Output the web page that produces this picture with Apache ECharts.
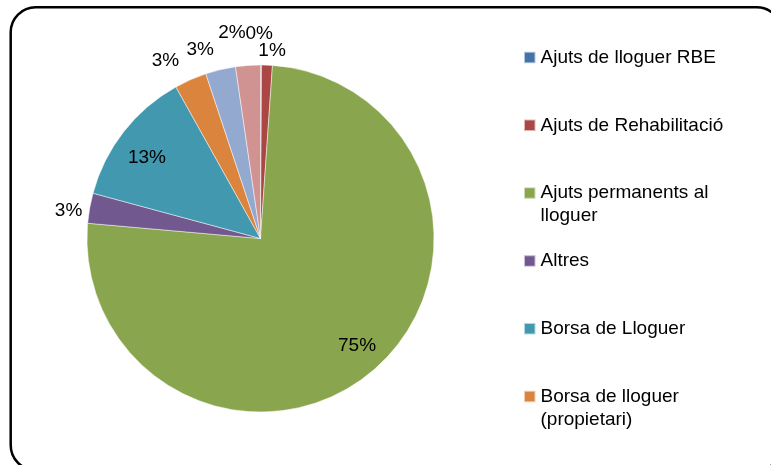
<!DOCTYPE html>
<html>
<head>
<meta charset="utf-8">
<script src="https://cdn.jsdelivr.net/npm/echarts@6/dist/echarts.min.js"></script>
<style>
html,body{margin:0;padding:0;background:#fff;}
#chart{width:771px;height:465px;}
</style>
</head>
<body>
<div id="chart"></div>
<script>
// ---- data ----
const categories = [
  'Ajuts de lloguer RBE',
  'Ajuts de Rehabilitació',
  'Ajuts permanents al lloguer',
  'Altres',
  'Borsa de Lloguer',
  'Borsa de lloguer (propietari)',
  'Categoria 7',
  'Categoria 8'
];
const shares = [0.1, 1.0, 75.3, 2.8, 12.7, 3.0, 2.8, 2.3];
const legendNames = categories.slice(0, 6);
const legendText = [
  'Ajuts de lloguer RBE',
  'Ajuts de Rehabilitació',
  'Ajuts permanents al\nlloguer',
  'Altres',
  'Borsa de Lloguer',
  'Borsa de lloguer\n(propietari)'
];

// ---- styling ----
const colors = ['#4572A7', '#AA4643', '#89A54E', '#71588F', '#4198AF', '#DB843D', '#93A9CF', '#D19392'];
const FONT = "'Liberation Sans', Arial, sans-serif";
const CX = 260.5, CY = 238.5, R = 173.5;
const innerLabelSet = { 'Ajuts permanents al lloguer': [3, -2], 'Borsa de Lloguer': [0, 8] };
const outerLabelSet = {
  'Ajuts de lloguer RBE': [-2, -4],
  'Ajuts de Rehabilitació': [4, 13],
  'Altres': [6, 7],
  'Borsa de lloguer (propietari)': [-14, 6],
  'Categoria 7': [-14, 7],
  'Categoria 8': [-14, -5]
};
const pct = p => Math.round(p.percent) + '%';

function labelData(set) {
  return categories.map((name, i) => {
    const on = Object.prototype.hasOwnProperty.call(set, name);
    return {
      name: name,
      value: shares[i],
      itemStyle: { color: 'rgba(0,0,0,0)', borderWidth: 0 },
      label: on ? { show: true, offset: set[name] } : { show: false }
    };
  });
}

const labelStyle = {
  position: 'inside',
  formatter: pct,
  color: '#000',
  fontSize: 19,
  fontFamily: FONT
};

const legendCenters0 = 57.5, legendStep = 67.8;
const legends = legendNames.map((name, i) => {
  const twoLines = legendText[i].indexOf('\n') >= 0;
  const c = legendCenters0 + i * legendStep;
  return {
    data: [name],
    orient: 'vertical',
    left: 523,
    top: twoLines ? c - 34.5 : c - 11.5,
    padding: 0,
    itemWidth: 11.5,
    itemHeight: 11.5,
    icon: 'rect',
    selectedMode: false,
    // a leading empty line keeps the first text line level with the marker
    formatter: () => (twoLines ? '\n' : '') + legendText[i],
    textStyle: {
      color: '#000',
      fontSize: 19,
      fontFamily: FONT,
      lineHeight: 23
    }
  };
});

const chart = echarts.init(document.getElementById('chart'), null, { renderer: 'canvas' });
chart.setOption({
  animation: false,
  backgroundColor: '#fff',
  graphic: [{
    type: 'rect',
    silent: true,
    shape: { x: 10.7, y: 7.2, width: 771, height: 463, r: 25 },
    style: { fill: 'none', stroke: '#000', lineWidth: 2.5 },
    z: 100
  }],
  legend: legends,
  series: [
    {
      type: 'pie',
      center: [CX, CY],
      radius: [0, R],
      startAngle: 90,
      clockwise: true,
      label: { show: false },
      labelLine: { show: false },
      emphasis: { disabled: true },
      itemStyle: { borderColor: 'rgba(255,255,255,0.6)', borderWidth: 0.8 },
      data: categories.map((name, i) => ({ name: name, value: shares[i], itemStyle: { color: colors[i] } }))
    },
    {
      type: 'pie',
      silent: true,
      legendHoverLink: false,
      avoidLabelOverlap: false,
      labelLayout: { hideOverlap: false },
      center: [CX, CY],
      radius: [0, 2 * 141],
      startAngle: 90,
      clockwise: true,
      label: labelStyle,
      labelLine: { show: false },
      emphasis: { disabled: true },
      data: labelData(innerLabelSet)
    },
    {
      type: 'pie',
      silent: true,
      legendHoverLink: false,
      avoidLabelOverlap: false,
      labelLayout: { hideOverlap: false },
      center: [CX, CY],
      radius: [0, 2 * 198],
      startAngle: 90,
      clockwise: true,
      label: labelStyle,
      labelLine: { show: false },
      emphasis: { disabled: true },
      data: labelData(outerLabelSet)
    }
  ]
});
</script>
</body>
</html>
